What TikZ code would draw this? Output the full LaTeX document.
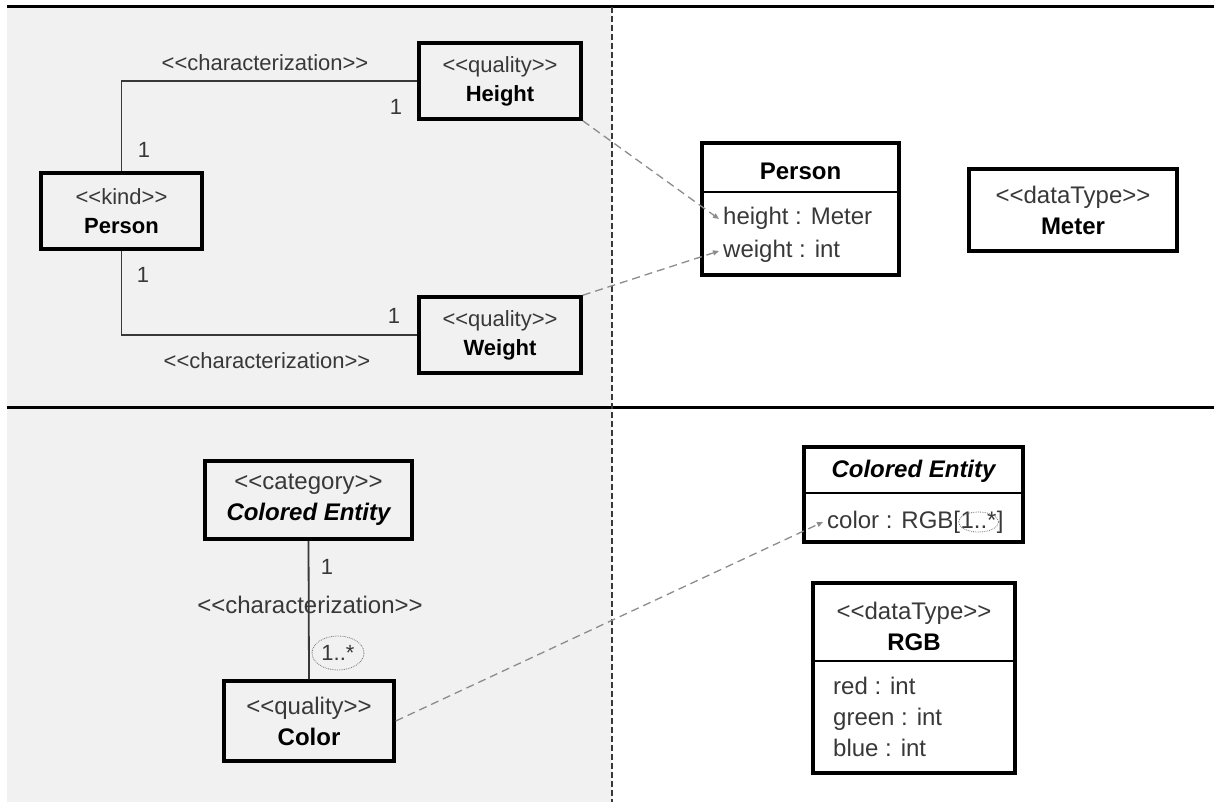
\documentclass[tikz,border=0pt]{standalone}
\usepackage{fontspec}
\setmainfont{Liberation Sans}[Ligatures=TeXOff]
\usetikzlibrary{arrows.meta}
\definecolor{ink}{HTML}{383838}
\definecolor{panel}{HTML}{F1F1F1}
\definecolor{tracegray}{HTML}{8C8C8C}
\newcommand{\stt}[1]{<<#1>>}
\newcommand{\nm}[1]{{\bfseries\color{black}#1}}

\begin{document}
\begin{tikzpicture}[x=1pt,y=-1pt,>={Triangle[length=6pt,width=5pt]},
  box/.style={draw=black,line width=3.5pt,align=center,text=ink,inner sep=0pt,font=\fontsize{22}{29}\selectfont},
  big/.style={font=\fontsize{24}{31}\selectfont},
  assoc/.style={draw=ink,line width=1.8pt},
  lbl/.style={text=ink,font=\fontsize{22}{26}\selectfont,inner sep=0pt},
  attr/.style={text=ink,font=\fontsize{24}{28}\selectfont,inner xsep=4pt,inner ysep=0pt,
    text height=17pt,text depth=5pt,anchor=west},
  trace/.style={->,draw=tracegray,line width=1.3pt,dash pattern=on 8pt off 5pt},
  sep/.style={draw=black,line width=1.5pt}]
  \useasboundingbox (0,0) rectangle (1214,802);
  % the two panels, model on the left, code on the right
  \fill[panel] (7,7) rectangle (612,802);
  \draw[line width=3pt] (7,7) -- (1214,7);
  \draw[line width=3pt] (7,407) -- (1214,407);
  \draw[ink,line width=1.5pt,dash pattern=on 6pt off 3pt] (612,7) -- (612,802);

  % Person with its two qualities
  \node[box,minimum width=161pt,minimum height=76pt] (kind) at (121.5,211) {\stt{kind}\\\nm{Person}};
  \node[box,minimum width=162pt,minimum height=76pt] (hgt) at (500,81) {\stt{quality}\\\nm{Height}};
  \node[box,minimum width=162pt,minimum height=76pt] (wgt) at (500,335) {\stt{quality}\\\nm{Weight}};
  \draw[assoc] (kind.north) |- (hgt.west);
  \draw[assoc] (kind.south) |- (wgt.west);
  \node[lbl] (ch1) at (265,63) {\stt{characterization}};
  \node[lbl] (ch2) at (267,361) {\stt{characterization}};
  \node[lbl] (m1) at (144,150) {1};
  \node[lbl] (m2) at (396,107) {1};
  \node[lbl] (m3) at (143,275) {1};
  \node[lbl] (m4) at (394,316) {1};

  % Person as a class
  \node[box,minimum width=197pt,minimum height=132pt] (pcls) at (800.5,209) {};
  \node[font=\fontsize{24}{30}\selectfont\bfseries] (pname) at (800.5,171) {Person};
  \draw[sep] (pcls.west |- 0,192) -- (pcls.east |- 0,192);
  \node[attr] (ph) at (719,219) {height : Meter};
  \node[attr] (pw) at (719,251) {weight : int};
  \node[box,big,minimum width=208pt,minimum height=82pt] (meter) at (1073,210) {\stt{dataType}\\\nm{Meter}};
  \draw[trace] (hgt.south east) -- (ph.west);
  \draw[trace] (wgt.north east) -- (pw.west);

  % Colored Entity with its color
  \node[box,big,minimum width=207pt,minimum height=78pt] (cat) at (308.5,500) {\stt{category}\\\nm{\itshape Colored Entity}};
  \node[box,big,minimum width=170pt,minimum height=80pt] (col) at (309,721) {\stt{quality}\\\nm{Color}};
  \draw[assoc] (cat.south) -- (col.north);
  \node[lbl] (m5) at (327,567) {1};
  \node[lbl,font=\fontsize{24}{28}\selectfont] (ch3) at (310,605) {\stt{characterization}};
  \node[lbl] (m6) at (338,653) {1..*};
  \draw[ink!70,line width=0.8pt,densely dotted] (m6) ellipse [x radius=26,y radius=17];

  % Colored Entity and RGB as classes
  \node[box,minimum width=219pt,minimum height=95pt] (ccls) at (913.5,494.5) {};
  \node[font=\fontsize{24}{30}\selectfont\bfseries\itshape] (cname) at (913.5,471) {Colored Entity};
  \draw[sep] (ccls.west |- 0,493) -- (ccls.east |- 0,493);
  \node[attr] (ca) at (823,522) {color : RGB[};
  \node[attr,inner xsep=0pt] (cm) at ([xshift=-4pt]ca.east) {1..*};
  \node[attr,inner xsep=0pt] (cb) at (cm.east) {]};
  \draw[ink!70,line width=0.8pt,densely dotted] (cm) ellipse [x radius=20,y radius=10];
  \draw[trace] (col.east) -- (ca.west);
  \node[box,minimum width=202pt,minimum height=190pt] (rgb) at (914,678) {};
  \node[box,big,draw=none] (rname) at (914,626) {\stt{dataType}\\\nm{RGB}};
  \draw[sep] (rgb.west |- 0,661) -- (rgb.east |- 0,661);
  \foreach \att/\yy in {red/688,green/719,blue/750}
    \node[attr] (rgb-\att) at (829,\yy) {\att{} : int};
\end{tikzpicture}
\end{document}
